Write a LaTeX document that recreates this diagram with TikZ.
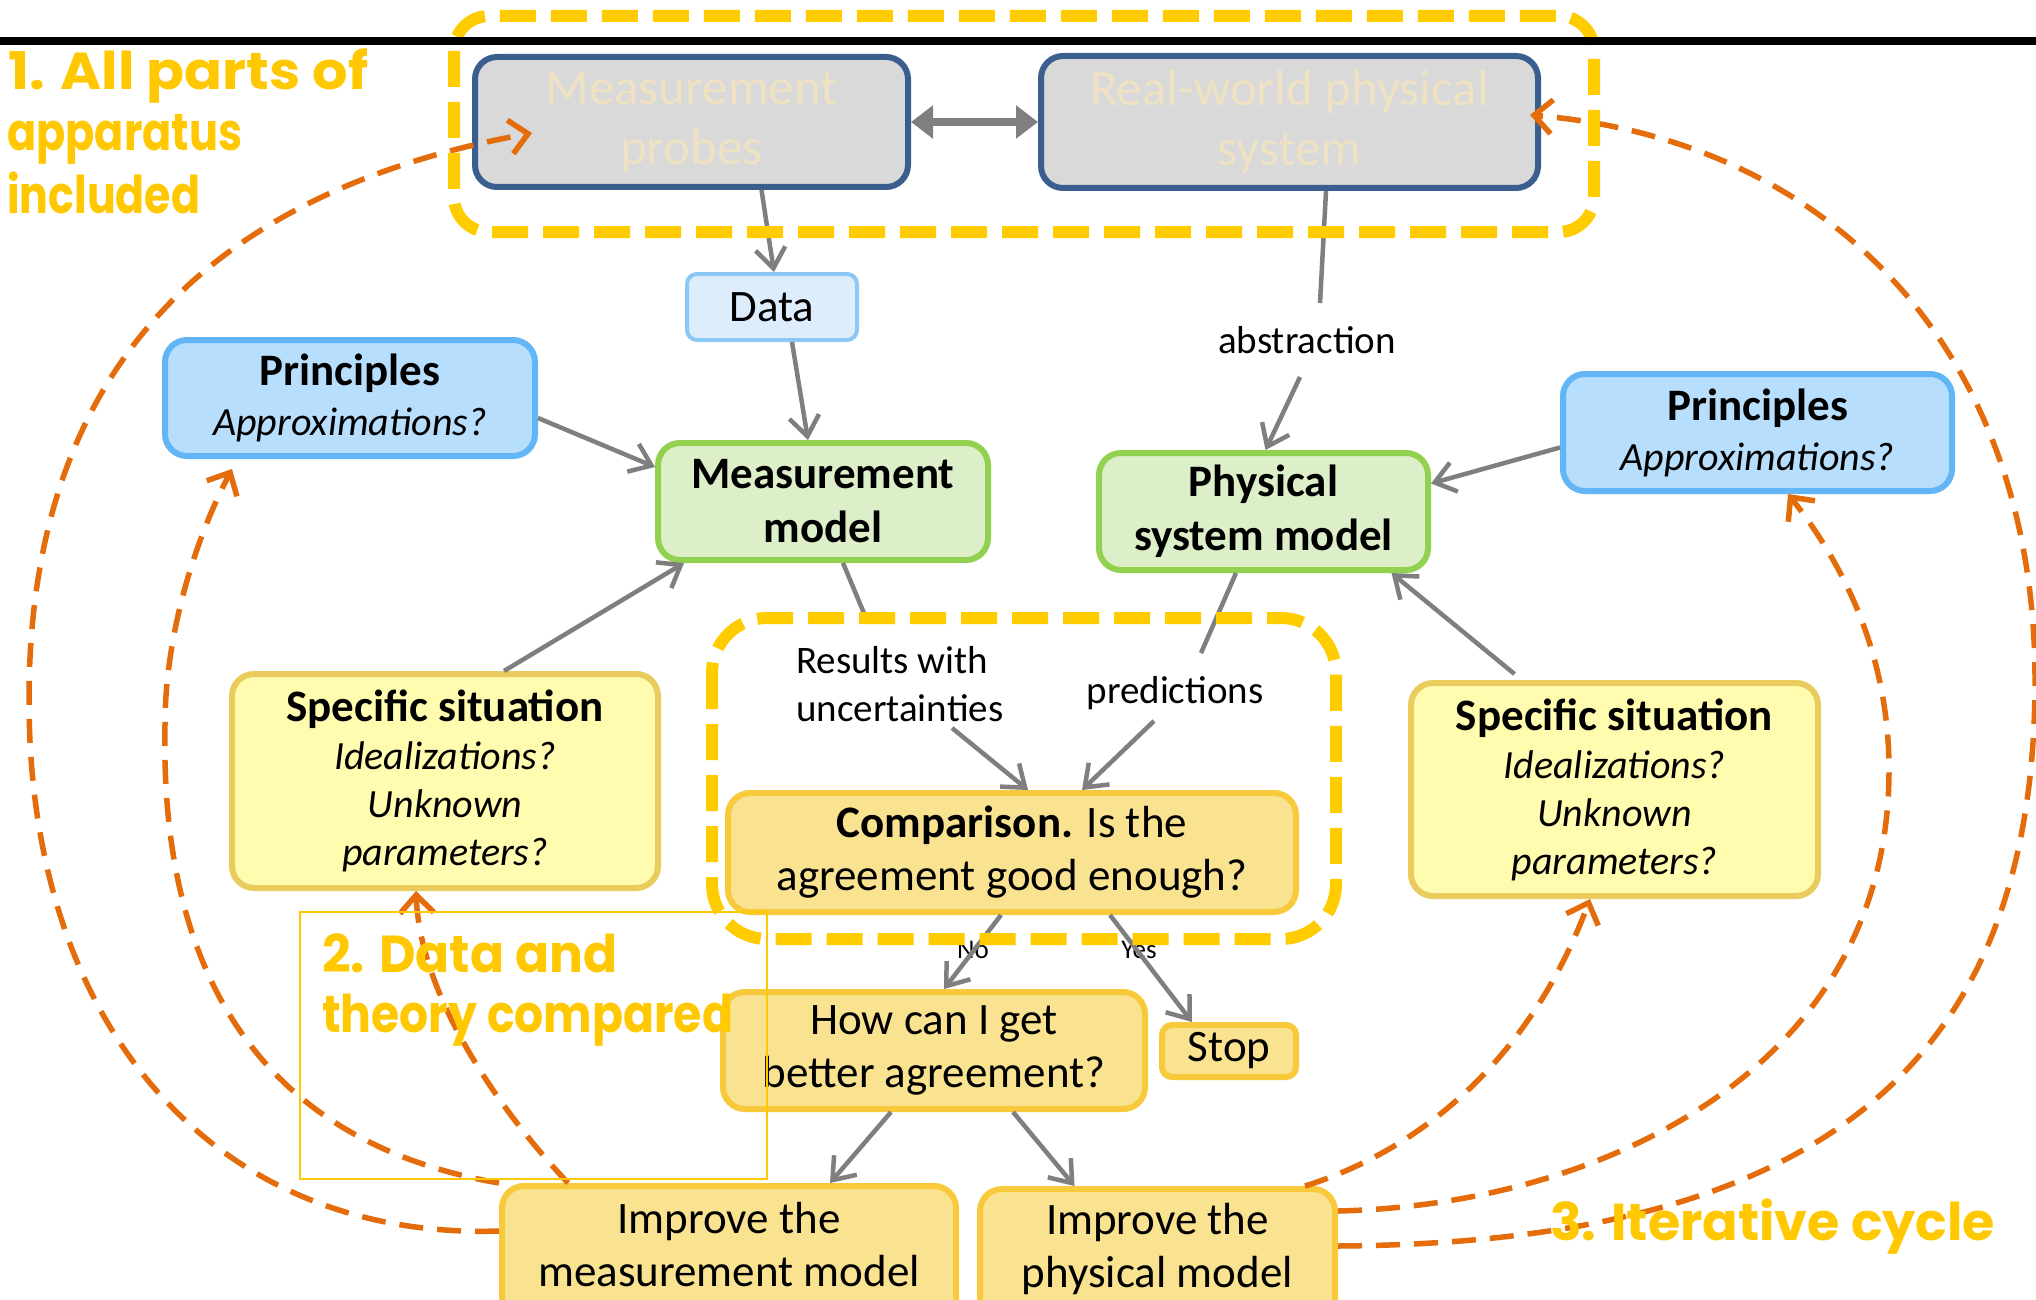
\documentclass[tikz,border=0pt]{standalone}
\usepackage{fontspec}
\usepackage{graphicx}
\setmainfont{Carlito}
\newfontfamily\comicfont{Poppins}
\usetikzlibrary{arrows.meta}

\definecolor{grayarrow}{RGB}{127,127,127}
\definecolor{probefill}{RGB}{217,217,217}
\definecolor{probeline}{RGB}{58,95,143}
\definecolor{probetext}{RGB}{238,226,194}
\definecolor{datafill}{RGB}{221,237,252}
\definecolor{dataline}{RGB}{140,200,245}
\definecolor{prinfill}{RGB}{183,222,252}
\definecolor{prinline}{RGB}{98,182,245}
\definecolor{modfill}{RGB}{220,239,200}
\definecolor{modline}{RGB}{146,208,80}
\definecolor{sitfill}{RGB}{255,252,175}
\definecolor{sitline}{RGB}{233,204,93}
\definecolor{cmpfill}{RGB}{249,226,144}
\definecolor{cmpline}{RGB}{247,201,59}
\definecolor{dashgold}{RGB}{255,204,0}
\definecolor{loopcol}{RGB}{228,108,10}
\definecolor{notegold}{RGB}{255,200,0}

% note text stretched to a given width, keeping its height
\newcommand\notetext[2]{\resizebox{#1pt}{\height}{#2}}

\begin{document}
\begin{tikzpicture}[x=1pt,y=-1pt,
  box/.style={rounded corners=22pt, line width=6pt, align=center, inner sep=0pt},
  probe/.style={box, fill=probefill, draw=probeline, text=probetext,
    font=\fontsize{51}{60}\selectfont},
  databox/.style={box, rounded corners=10pt, line width=4pt, fill=datafill, draw=dataline,
    font=\fontsize{45}{53}\selectfont},
  prin/.style={box, fill=prinfill, draw=prinline, font=\fontsize{45}{50}\selectfont},
  model/.style={box, fill=modfill, draw=modline, font=\fontsize{45}{54}\selectfont\bfseries},
  situation/.style={box, fill=sitfill, draw=sitline, font=\fontsize{45}{48}\selectfont},
  cmpbox/.style={box, fill=cmpfill, draw=cmpline, font=\fontsize{45}{53}\selectfont},
  plain/.style={align=center, inner sep=0pt, font=\fontsize{45}{53}\selectfont},
  lbl/.style={inner sep=0pt, font=\fontsize{39}{48}\selectfont},
  tiny/.style={inner sep=0pt, font=\fontsize{27}{30}\selectfont},
  comic/.style={inner sep=0pt, anchor=base west, text=notegold,
    font=\fontsize{52}{60}\comicfont\bfseries},
  gline/.style={draw=grayarrow, line width=4.5pt},
  garrow/.style={gline, -{Straight Barb[length=20pt,width=30pt]}},
  loopline/.style={draw=loopcol, line width=5.5pt, dash pattern=on 24pt off 14pt,
    -{Straight Barb[length=18pt,width=34pt]}},
  gdash/.style={draw=dashgold, line width=12pt, dash pattern=on 36pt off 15pt},
]
\clip (0,0) rectangle (2036,1300);
\fill[white] (0,0) rectangle (2036,1300);

% apparatus and real system
\node[probe, minimum width=433pt, minimum height=130pt] (probes) at (691.5,122) {Measurement\\probes};
\node[probe, minimum width=497pt, minimum height=132pt] (rw) at (1289.5,122) {Real-world physical\\system};
\draw[draw=grayarrow, line width=8pt, {Triangle[length=22pt,width=32pt]}-{Triangle[length=22pt,width=32pt]}]
  (probes.east) -- (rw.west);

% data and models
\node[databox, minimum width=170pt, minimum height=66pt] (data) at (772,307) {Data};
\node[prin, minimum width=370pt, minimum height=116pt] (prL) at (350,398)
  {\textbf{Principles}\\{\fontsize{40}{50}\selectfont\itshape Approximations?}};
\node[prin, minimum width=389pt, minimum height=117pt] (prR) at (1757.5,432.5)
  {\textbf{Principles}\\{\fontsize{40}{50}\selectfont\itshape Approximations?}};
\node[model, minimum width=330pt, minimum height=117pt] (mm) at (823,501.5) {Measurement\\model};
\node[model, minimum width=329pt, minimum height=117pt] (psm) at (1263.5,511.5) {Physical\\system model};
\node[situation, minimum width=426pt, minimum height=214pt] (ssL) at (445,781)
  {\textbf{Specific situation}\\{\fontsize{40}{48}\selectfont\itshape Idealizations?}\\{\fontsize{40}{48}\selectfont\itshape Unknown}\\{\fontsize{40}{48}\selectfont\itshape parameters?}};
\node[situation, minimum width=407pt, minimum height=213pt] (ssR) at (1614.5,789.5)
  {\textbf{Specific situation}\\{\fontsize{40}{48}\selectfont\itshape Idealizations?}\\{\fontsize{40}{48}\selectfont\itshape Unknown}\\{\fontsize{40}{48}\selectfont\itshape parameters?}};

% comparison and outcomes
\node[cmpbox, minimum width=568pt, minimum height=119pt] (cmp) at (1012,852.5)
  {\textbf{Comparison.} Is the\\agreement good enough?};
\node[cmpbox, minimum width=422pt, minimum height=117pt] (how) at (934,1050.5)
  {How can I get\\better agreement?};
\node[cmpbox, rounded corners=10pt, minimum width=134pt, minimum height=52pt] (stop) at (1229,1051) {Stop};
\node[cmpbox, minimum width=454pt, minimum height=170pt, anchor=north] (imm) at (729,1183) {};
\node[plain] (immtext) at (729,1245) {Improve the\\measurement model};
\node[cmpbox, minimum width=355pt, minimum height=170pt, anchor=north] (ipm) at (1157.5,1186) {};
\node[plain] (ipmtext) at (1157.5,1249) {Improve the\\physical model};

% connector labels
\node[lbl] (abs) at (1307,340) {abstraction};
\node[lbl, align=left, anchor=west] (res) at (796,684) {Results with\\uncertainties};
\node[lbl] (pred) at (1175,693) {predictions};
\node[tiny] (no) at (973,950) {No};
\node[tiny] (yes) at (1139,950) {Yes};

\coordinate (absTop) at (1320,303);
\coordinate (absBot) at (1300,377);
\coordinate (resTop) at (866,618);
\coordinate (resBot) at (952,728);
\coordinate (predTop) at (1201,653);
\coordinate (predBot) at (1154,721);

% gray connectors
\draw[garrow] ([xshift=70pt]probes.south) -- ([xshift=2pt]data.north);
\draw[garrow] ([xshift=20pt]data.south) -- ([xshift=-15pt]mm.north);
\draw[garrow] ([yshift=-20pt]prL.east) -- ([yshift=34.5pt]mm.west);
\draw[garrow] ([xshift=59pt]ssL.north) -- ([xshift=-139pt]mm.south);
\draw[garrow] ([yshift=-15pt]prR.west) -- ([yshift=28pt]psm.east);
\draw[garrow] ([xshift=-100pt,yshift=6pt]ssR.north) -- ([xshift=128pt]psm.south);
\draw[gline] ([xshift=36.5pt]rw.south) -- (absTop);
\draw[garrow] (absBot) -- ([xshift=2pt]psm.north);
\draw[gline] ([xshift=20pt]mm.south) -- (resTop);
\draw[garrow] (resBot) -- ([xshift=16pt]cmp.north);
\draw[gline] ([xshift=-27.5pt]psm.south) -- (predTop);
\draw[garrow] (predBot) -- ([xshift=70pt]cmp.north);
\draw[garrow] ([xshift=-11pt]cmp.south) -- ([xshift=10pt]how.north);
\draw[garrow] ([xshift=98pt]cmp.south) -- ([xshift=-37pt]stop.north);
\draw[garrow] ([xshift=-43pt]how.south) -- ([xshift=101pt]imm.north);
\draw[garrow] ([xshift=79pt]how.south) -- ([xshift=-83pt]ipm.north);

% iteration loops
\coordinate (tipProbes) at (532,133);
\coordinate (tipRw) at (1530,115);
\draw[loopline] ([yshift=40pt]imm.west) .. controls (217,1240) and (29,1030) .. (29,700)
  .. controls (29,360) and (220,190) .. (tipProbes);
\draw[loopline] (imm.north west) .. controls (250,1140) and (160,960) .. (165,725)
  .. controls (165,640) and (192,546) .. ([xshift=-118pt,yshift=-10pt]prL.south);
\draw[loopline] ([xshift=-161pt]imm.north) .. controls (490,1100) and (420,990) .. ([xshift=-29pt]ssL.south);
\draw[loopline] ([yshift=28pt]ipm.east) .. controls (1826,1243) and (2035,1060) .. (2035,680)
  .. controls (2035,350) and (1830,140) .. (tipRw);
\draw[loopline] ([yshift=63pt]ipm.east) .. controls (1600,1205) and (1889,1070) .. (1889,770)
  .. controls (1889,650) and (1840,560) .. ([xshift=30.5pt]prR.south);
\draw[loopline] ([xshift=147.5pt]ipm.north) .. controls (1420,1150) and (1530,1060) .. ([xshift=-24.5pt]ssR.south);

% highlighted regions
\draw[gdash, rounded corners=35pt] (454,16) rectangle (1594,232);
\draw[gdash, rounded corners=55pt] (712,618) rectangle (1336,939);
\draw[line width=8pt] (0,41) -- (2036,41);
\draw[notegold, line width=2.5pt] (300,912) rectangle (767,1179);

% notes
\node[comic] (n1a) at (8,90) {\notetext{360}{1. All parts of}};
\node[comic] (n1b) at (7,150) {\notetext{235}{apparatus}};
\node[comic] (n1c) at (7,213) {\notetext{193}{included}};
\node[comic] (n2a) at (322,972) {\notetext{295}{2. Data and}};
\node[comic] (n2b) at (322,1032) {\notetext{411}{theory compared}};
\node[comic] (n3) at (1550,1240) {\notetext{445}{3. Iterative cycle}};
\end{tikzpicture}
\end{document}
